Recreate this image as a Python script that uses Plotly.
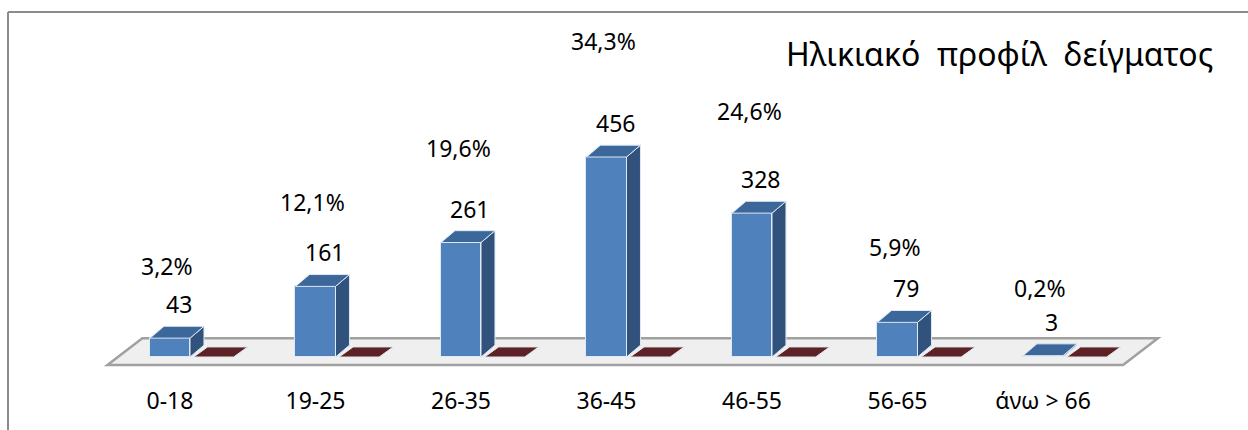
import plotly.graph_objects as go

categories = ["0-18", "19-25", "26-35", "36-45", "46-55", "56-65", "άνω > 66"]
counts = [43, 161, 261, 456, 328, 79, 3]
percent_labels = ["3,2%", "12,1%", "19,6%", "34,3%", "24,6%", "5,9%", "0,2%"]
second_series = [0, 0, 0, 0, 0, 0, 0]
title_text = "Ηλικιακό\u00a0\u00a0προφίλ\u00a0\u00a0δείγματος"

FONT = "Noto Sans"
BAR_W = 0.275
DX = 0.096
DY = 27.0
RED_CENTER = 0.30

BLUE_FRONT = "#4f81bd"
BLUE_TOP = "#3c679b"
BLUE_SIDE = "#30527c"
RED_TOP = "#5e2224"
EDGE = "#dfe8f3"

n = len(categories)
xs = list(range(n))

fig = go.Figure()

# front faces of the blue bars
fig.add_trace(go.Bar(x=xs, y=counts, width=BAR_W, marker=dict(color=BLUE_FRONT, line=dict(color=EDGE, width=1)),
                     hoverinfo="skip", showlegend=False))

def poly(px, py, color):
    fig.add_trace(go.Scatter(x=px + [px[0]], y=py + [py[0]], mode="lines", fill="toself", fillcolor=color,
                             line=dict(color=EDGE, width=1), hoverinfo="skip", showlegend=False))

for i, v in enumerate(counts):
    l = i - BAR_W / 2
    r = i + BAR_W / 2
    # side face
    poly([r, r + DX, r + DX, r], [0, DY, v + DY, v], BLUE_SIDE)
    # top face
    poly([l, r, r + DX, l + DX], [v, v, v + DY, v + DY], BLUE_TOP)
    # second (flat) series
    rv = second_series[i]
    rl = i + RED_CENTER - BAR_W / 2
    rr = i + RED_CENTER + BAR_W / 2
    poly([rl, rr, rr + DX, rl + DX], [rv, rv, rv + DY * 0.85, rv + DY * 0.85], RED_TOP)

# value labels
for i, v in enumerate(counts):
    fig.add_annotation(x=i + 0.06, y=v, text=str(v), showarrow=False, yshift=34, yanchor="middle",
                       font=dict(family=FONT, size=23, color="black"))
# percentage labels
for i, (v, p) in enumerate(zip(counts, percent_labels)):
    fig.add_annotation(x=i - 0.02, y=153 + 1.2426 * v, text=p, showarrow=False, yanchor="middle",
                       font=dict(family=FONT, size=23, color="black"))

# floor (below traces)
f_l, f_r = -0.43, n - 0.45
f_y0, f_y1, f_dx = -18, 43, 0.24
fig.add_shape(type="path", xref="x", yref="y", layer="below",
              path=f"M {f_l},{f_y0} L {f_r},{f_y0} L {f_r + f_dx},{f_y1} L {f_l + f_dx},{f_y1} Z",
              fillcolor="#efefef", line=dict(color="#a0a0a0", width=2.5))

# frame
fig.add_shape(type="line", xref="paper", yref="paper", x0=8 / 1248, x1=1.01, y0=(385 - 12) / 385, y1=(385 - 12) / 385,
              line=dict(color="#8c8c8c", width=2))
fig.add_shape(type="line", xref="paper", yref="paper", x0=8 / 1248, x1=8 / 1248, y0=(385 - 12) / 385, y1=-0.2,
              line=dict(color="#8c8c8c", width=2))

fig.add_annotation(xref="paper", yref="paper", x=1215 / 1248, y=(385 - 53) / 385, xanchor="right", yanchor="middle",
                   text=title_text, showarrow=False, font=dict(family=FONT, size=32, color="black"))

fig.update_layout(
    width=1248, height=430, margin=dict(l=0, r=0, t=0, b=45),
    paper_bgcolor="white", plot_bgcolor="white",
    xaxis=dict(range=[-170 / 145.5, (1248 - 170) / 145.5], tickvals=xs, ticktext=categories,
               showgrid=False, zeroline=False, showline=False, ticks="",
               tickfont=dict(family=FONT, size=23, color="black")),
    yaxis=dict(range=[(357 - 385) / 0.4386, 357 / 0.4386], visible=False, showgrid=False, zeroline=False),
    bargap=0,
)

fig.write_html("out.html")
